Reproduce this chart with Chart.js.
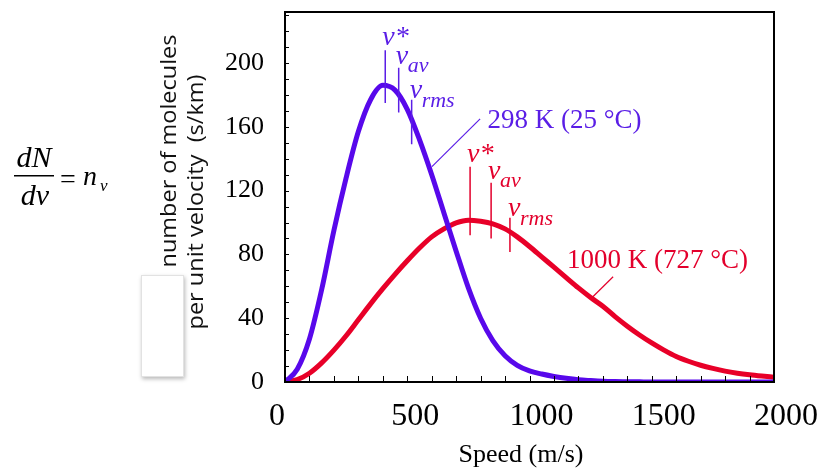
<!DOCTYPE html>
<html><head><meta charset="utf-8">
<script src="https://cdn.jsdelivr.net/npm/chart.js@4"></script>
<style>html,body{margin:0;padding:0;background:#fff}#wrap{width:822px;height:470px;position:relative}</style>
</head><body><div id="wrap"><canvas id="c"></canvas></div>
<script>
// ---- data ----
const speeds = [0,50,100,150,200,250,300,350,400,450,500,550,600,650,700,750,800,850,900,950,
  1000,1050,1100,1150,1200,1250,1300,1350,1400,1450,1500,1550,1600,1650,1700,1750,1800,1850,1900,1950,2000];
const n298  = [0,8,27,58,95,128,157,177,186,183,171,152,130,106,82,59,40,26,16.5,10.5,
  7,5,3.5,2.3,1.4,0.9,0.5,0.3,0.2,0.1,0,0,0,0,0,0,0,0,0,0,0];
const n1000 = [0,1.5,5.5,12,20,29,39,49,58.5,67.5,76,84,91,96,99.8,101.5,100.8,99.2,96,91,
  85,78.5,72,65.5,59,53,47.5,41,35,29.5,24.5,20,16,13,10.5,8.5,6.8,5.5,4.5,3.7,3];
const xTickValues = [0,500,1000,1500,2000];
const yTickValues = [0,40,80,120,160,200];
// characteristic speeds (v*, v_av, v_rms) and marker extents (value units)
const markers298  = [410,465,518];
const markTop298  = [208,197,177];
const markBot298  = [175,169,149];
const markers1000 = [757,843,920];
const markTop1000 = [135,125,103];
const markBot1000 = [92,90,81.5];
const label298 = '298 K (25 °C)';
const label1000 = '1000 K (727 °C)';

const BLUE = '#5808eb', BLUE_T = '#5a1ee6', RED = '#e80028', RED_T = '#e3002c';
const SERIF = '"Liberation Serif", "Times New Roman", serif';

const toXY = arr => speeds.map((s,i)=>({x:s,y:arr[i]}));

const deco = {
  id:'deco',
  beforeDraw(chart){
    const c = chart.ctx;
    c.save();
    c.shadowColor='rgba(0,0,0,0.28)'; c.shadowBlur=4; c.shadowOffsetX=1; c.shadowOffsetY=2;
    c.fillStyle='#fff'; c.fillRect(141,275,43,102);
    c.shadowColor='transparent';
    c.strokeStyle='#e2e2e2'; c.lineWidth=1; c.strokeRect(141.5,275.5,42,101);
    c.restore();
  },
  afterDatasetsDraw(chart){
    const c = chart.ctx, a = chart.chartArea, xs = chart.scales.x, ys = chart.scales.y;
    c.save();
    c.strokeStyle='#000'; c.lineWidth=2;
    c.strokeRect(a.left, a.top, a.right-a.left, a.bottom-a.top);
    c.lineWidth=1;
    c.beginPath();
    for(let v=100; v<2000; v+=100){ const px=Math.round(xs.getPixelForValue(v))+0.5; c.moveTo(px,a.bottom); c.lineTo(px,a.bottom-6); }
    for(let v=10; v<232; v+=10){ const py=Math.round(ys.getPixelForValue(v))+0.5; c.moveTo(a.left,py); c.lineTo(a.left+4,py); }
    c.stroke();

    function markers(sp, top, bot, col){
      c.strokeStyle=col; c.lineWidth=1.5;
      c.beginPath();
      sp.forEach((s,i)=>{const px=xs.getPixelForValue(s); c.moveTo(px,ys.getPixelForValue(top[i])); c.lineTo(px,ys.getPixelForValue(bot[i]));});
      c.stroke();
      c.fillStyle=col; c.textBaseline='alphabetic'; c.textAlign='left';
      const p0=xs.getPixelForValue(sp[0]), p1=xs.getPixelForValue(sp[1]), p2=xs.getPixelForValue(sp[2]);
      const t0=ys.getPixelForValue(top[0]), t1=ys.getPixelForValue(top[1]), t2=ys.getPixelForValue(top[2]);
      c.font='italic 28px '+SERIF;
      c.fillText('v*', p0-3, t0-5);
      c.fillText('v', p1-3, t1-4);
      c.fillText('v', p2-2, t2-2);
      c.font='italic 22px '+SERIF;
      c.fillText('av', p1+9, t1+4);
      c.fillText('rms', p2+10, t2+7);
    }
    markers(markers298, markTop298, markBot298, BLUE_T);
    markers(markers1000, markTop1000, markBot1000, RED_T);

    c.lineWidth=1.2;
    c.strokeStyle=BLUE_T; c.beginPath();
    c.moveTo(xs.getPixelForValue(601), ys.getPixelForValue(135));
    c.lineTo(xs.getPixelForValue(798), ys.getPixelForValue(165)); c.stroke();
    c.strokeStyle=RED_T; c.beginPath();
    c.moveTo(xs.getPixelForValue(1256), ys.getPixelForValue(53));
    c.lineTo(xs.getPixelForValue(1342), ys.getPixelForValue(66)); c.stroke();
    c.font='27px '+SERIF; c.textAlign='left'; c.textBaseline='alphabetic';
    c.fillStyle=BLUE_T; c.fillText(label298, xs.getPixelForValue(828), ys.getPixelForValue(159));
    c.fillStyle=RED_T;  c.fillText(label1000, xs.getPixelForValue(1153), ys.getPixelForValue(71.5));
    c.restore();

    c.save();
    c.fillStyle='#000';
    c.font='26px '+SERIF; c.textAlign='center'; c.textBaseline='alphabetic';
    c.fillText('Speed (m/s)', 521, 462);
    function vtext(str, cx, cy, target){
      c.save(); c.translate(cx,cy); c.rotate(-Math.PI/2);
      c.font='22px "Open Sans", "Liberation Sans", sans-serif';
      c.textAlign='center'; c.textBaseline='middle';
      const w=c.measureText(str).width; c.scale(target/w,1);
      c.fillStyle='#111'; c.fillText(str,0,0); c.restore();
    }
    vtext('number of molecules', 170, 151, 233);
    vtext('per unit velocity  (s/km)', 197, 202, 255);
    c.textAlign='center'; c.textBaseline='alphabetic';
    c.font='italic 30px '+SERIF;
    c.fillText('dN', 34, 167);
    c.fillText('dv', 35, 205);
    c.fillRect(14,175,40,1.5);
    c.font='28px '+SERIF; c.textAlign='left';
    c.fillText('=', 60, 188);
    c.font='italic 28px '+SERIF;
    c.fillText('n', 83, 185);
    c.font='italic 17px '+SERIF;
    c.fillText('v', 100, 191);
    c.restore();
  }
};

new Chart(document.getElementById('c'), {
  type:'line',
  data:{datasets:[
    {label:'298 K', data:toXY(n298), borderColor:BLUE, borderWidth:5, pointRadius:0, cubicInterpolationMode:'monotone', fill:false},
    {label:'1000 K', data:toXY(n1000), borderColor:RED, borderWidth:5, pointRadius:0, cubicInterpolationMode:'monotone', fill:false}
  ]},
  options:{
    responsive:true, maintainAspectRatio:false, animation:false, devicePixelRatio:1,
    layout:{padding:{top:12,right:48,bottom:0,left:0}},
    plugins:{legend:{display:false}, tooltip:{enabled:false}},
    scales:{
      x:{type:'linear', min:0, max:2000,
        afterBuildTicks:s=>{s.ticks=xTickValues.map(v=>({value:v}));},
        afterFit:s=>{s.height=88; s.paddingLeft=0; s.paddingRight=0;},
        grid:{display:false, drawTicks:false}, border:{display:false},
        ticks:{font:{family:SERIF, size:32}, color:'#000', padding:15, labelOffset:12, maxRotation:0, autoSkip:false,
          callback:v=> v===0 ? '0     ' : (v===500 ? '500 ' : String(v))}},
      y:{type:'linear', min:0, max:232,
        afterBuildTicks:s=>{s.ticks=yTickValues.map(v=>({value:v}));},
        afterFit:s=>{s.width=285; s.paddingTop=0; s.paddingBottom=0;},
        grid:{display:false, drawTicks:false}, border:{display:false},
        ticks:{font:{family:SERIF, size:26}, color:'#000', padding:21, autoSkip:false, callback:v=>String(v)}}
    }
  },
  plugins:[deco]
});
</script></body></html>
